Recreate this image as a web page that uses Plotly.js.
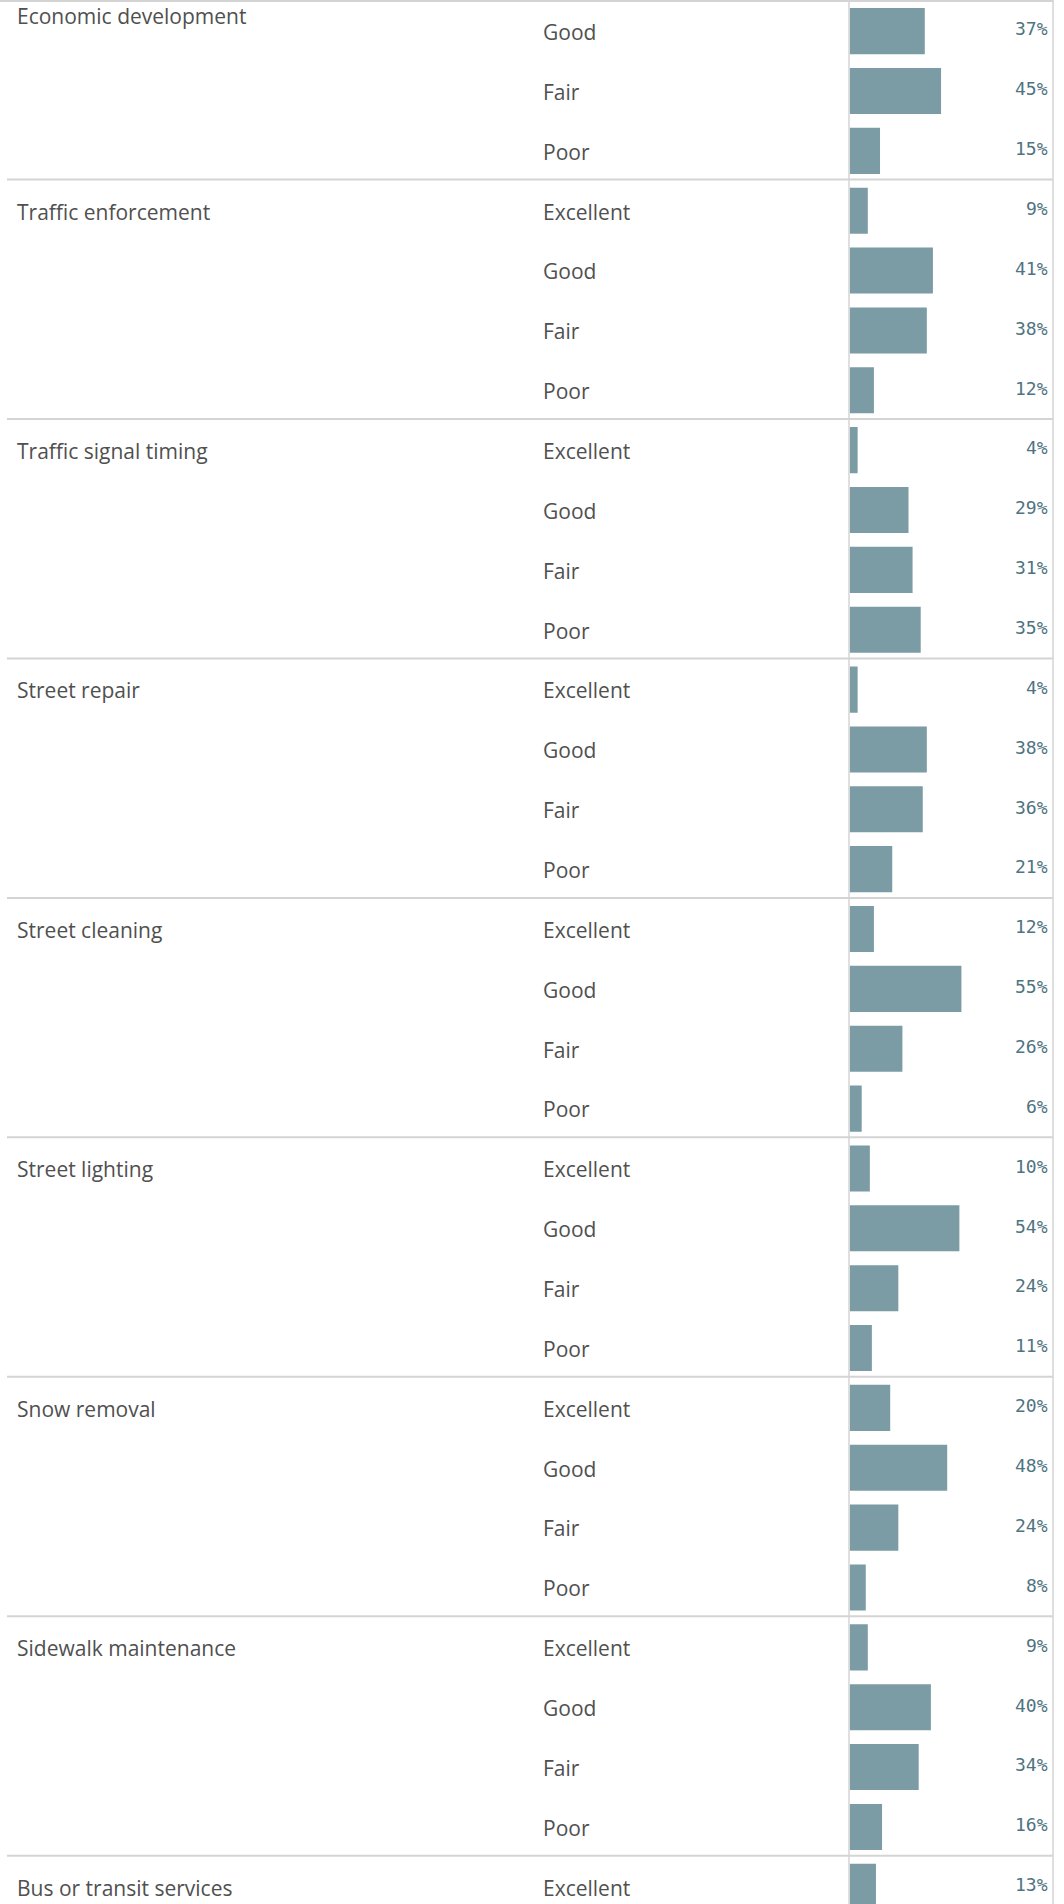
<!DOCTYPE html>
<html>
<head>
<meta charset="utf-8">
<script src="https://cdn.plot.ly/plotly-3.0.1.min.js"></script>
<style>
  html, body { margin: 0; padding: 0; background: #ffffff; }
  #chart { width: 1064px; height: 1904px; }
</style>
</head>
<body>
<div id="chart"></div>
<script>
// ---- Data ----
const categories = [
  "Economic development",
  "Traffic enforcement",
  "Traffic signal timing",
  "Street repair",
  "Street cleaning",
  "Street lighting",
  "Snow removal",
  "Sidewalk maintenance",
  "Bus or transit services"
];
const ratings = ["Excellent", "Good", "Fair", "Poor"];
// percent of responses per rating, in category order (null = row not shown)
const excellent = [null, 9, 4, 4, 12, 10, 20, 9, 13];
const good      = [37, 41, 29, 38, 55, 54, 48, 40, null];
const fair      = [45, 38, 31, 36, 26, 24, 24, 34, null];
const poor      = [15, 12, 35, 21, 6, 11, 8, 16, null];

// ---- Build rows ----
const W = 1064, H = 1904;
const rowPx = 59.86;
const seriesByRating = [excellent, good, fair, poor];
const rowY = [], rowVal = [], rowLabel = [], groupStart = [];
let r = 0;
categories.forEach((cat, ci) => {
  groupStart.push(r);
  ratings.forEach((rt, ri) => {
    const v = seriesByRating[ri][ci];
    if (v !== null && v !== undefined) {
      rowY.push(r); rowVal.push(v); rowLabel.push(rt); r++;
    }
  });
});

const xDomL = 849 / W, xDomR = 1053 / W;
const yTop = -0.5, yBot = -0.5 + H / rowPx;

const textColor = "#505050";
const gridColor = "#d4d4d4";
const labelFont = { family: "Open Sans, Noto Sans, sans-serif", size: 21, color: textColor };
const pctFont = { family: "DejaVu Sans Mono, monospace", size: 18, color: "#4f7381" };

const annotations = [];
// category headers (first one is pinned to the top of the scrolled pane)
categories.forEach((cat, ci) => {
  const pinned = ci === 0;
  annotations.push({
    xref: "paper", yref: "y", x: 15 / W,
    y: pinned ? yTop + 16 / rowPx : groupStart[ci],
    xanchor: "left", yanchor: "middle", yshift: pinned ? 0 : -2,
    text: cat, showarrow: false, font: labelFont
  });
});
// rating labels and percentages
rowY.forEach((y, i) => {
  annotations.push({
    xref: "paper", yref: "y", x: 541 / W, y: y, xanchor: "left", yanchor: "middle",
    text: rowLabel[i], showarrow: false, font: labelFont, yshift: -2
  });
  annotations.push({
    xref: "paper", yref: "y", x: 1050 / W, y: y, xanchor: "right", yanchor: "middle",
    text: rowVal[i] + "%", showarrow: false, font: pctFont, yshift: 1
  });
});

const shapes = [];
// top border
shapes.push({ type: "line", xref: "paper", yref: "paper", x0: 0, x1: xDomR, y0: 1 - 1 / H, y1: 1 - 1 / H,
  line: { color: gridColor, width: 2 } });
// group separators
groupStart.slice(1).forEach(g => {
  shapes.push({ type: "line", xref: "paper", yref: "y", x0: 7 / W, x1: xDomR, y0: g - 0.5, y1: g - 0.5,
    line: { color: gridColor, width: 2 } });
});
// vertical axis line at bar origin and right border
shapes.push({ type: "line", xref: "paper", yref: "paper", x0: xDomL, x1: xDomL, y0: 0, y1: 1,
  line: { color: gridColor, width: 1.5 } });
shapes.push({ type: "line", xref: "paper", yref: "paper", x0: xDomR, x1: xDomR, y0: 0, y1: 1,
  line: { color: gridColor, width: 1.5 } });

const trace = {
  type: "bar", orientation: "h",
  x: rowVal, y: rowY.map(v => v + 0.02),
  width: 0.77,
  marker: { color: "#7b9ca5", line: { width: 0 } },
  hoverinfo: "skip"
};

const layout = {
  width: W, height: H,
  margin: { l: 0, r: 0, t: 0, b: 0 },
  paper_bgcolor: "#ffffff", plot_bgcolor: "rgba(0,0,0,0)",
  showlegend: false,
  xaxis: { domain: [xDomL + 0.5 / W, xDomR], range: [0, 100], showgrid: false, zeroline: false,
    showticklabels: false, ticks: "", fixedrange: true },
  yaxis: { range: [yBot, yTop], showgrid: false, zeroline: false, showticklabels: false,
    ticks: "", fixedrange: true },
  annotations: annotations,
  shapes: shapes
};

Plotly.newPlot("chart", [trace], layout, { displayModeBar: false, staticPlot: true });
</script>
</body>
</html>
